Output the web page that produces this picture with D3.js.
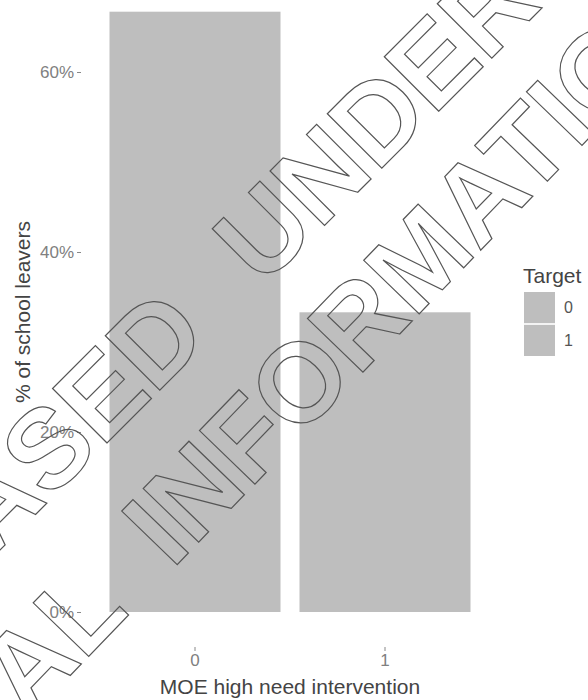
<!DOCTYPE html>
<html>
<head>
<meta charset="utf-8">
<script src="https://cdn.jsdelivr.net/npm/d3@7"></script>
<style>
  html, body { margin: 0; padding: 0; background: #ffffff; }
  svg { display: block; }
</style>
</head>
<body>
<script>
// ---- data ----
const categories = ["0", "1"];
const values = [66.7, 33.3];          // % of school leavers
const yTicks = [0, 20, 40, 60];
const legendKeys = ["0", "1"];
const xTitle = "MOE high need intervention";
const yTitle = "% of school leavers";
const legendTitle = "Target";
const watermark1 = ["RELEASED", "UNDER THE"];
const watermark2 = ["OFFICIAL", "INFORMATION ACT"];

const W = 588, H = 700;
const barColor = "#bebebe";
const font = "'Liberation Sans', Arial, sans-serif";

const svg = d3.select("body").append("svg")
  .attr("width", W).attr("height", H);

const x = d3.scaleBand().domain(categories).range([81, 499])
  .paddingInner(0.1).paddingOuter(0.15);
const y = d3.scaleLinear().domain([0, 60]).range([612, 72]);

// bars
svg.append("g").selectAll("rect").data(categories).join("rect")
  .attr("x", d => x(d))
  .attr("width", x.bandwidth())
  .attr("y", (d, i) => y(values[i]))
  .attr("height", (d, i) => y(0) - y(values[i]))
  .attr("fill", barColor);

// y axis
const yAxis = svg.append("g").attr("transform", "translate(81,0)")
  .call(d3.axisLeft(y).tickValues(yTicks).tickFormat(d => d + "%").tickSize(4).tickPadding(3));
yAxis.select(".domain").remove();
yAxis.selectAll("line").attr("stroke", "#888");
yAxis.selectAll("text").attr("font-family", font).attr("font-size", 17).attr("fill", "#808080");

// x axis
const xAxis = svg.append("g").attr("transform", "translate(0,647)")
  .call(d3.axisBottom(x).tickSize(4).tickPadding(3));
xAxis.select(".domain").remove();
xAxis.selectAll("line").attr("stroke", "#888");
xAxis.selectAll("text").attr("font-family", font).attr("font-size", 17).attr("fill", "#808080");

// axis titles
svg.append("text").attr("x", 290).attr("y", 694).attr("text-anchor", "middle")
  .attr("font-family", font).attr("font-size", 21).attr("fill", "#444").text(xTitle);
svg.append("text").attr("transform", "translate(30,312) rotate(-90)")
  .attr("text-anchor", "middle")
  .attr("font-family", font).attr("font-size", 21).attr("fill", "#444").text(yTitle);

// legend
const lg = svg.append("g");
lg.append("text").attr("x", 523).attr("y", 283)
  .attr("font-family", font).attr("font-size", 21).attr("fill", "#444").text(legendTitle);
const key = d3.scaleBand().domain(legendKeys).range([292, 356]).paddingInner(0.05);
lg.selectAll("rect").data(legendKeys).join("rect")
  .attr("x", 524).attr("y", d => key(d)).attr("width", 31).attr("height", key.bandwidth())
  .attr("fill", barColor);
lg.selectAll("text.k").data(legendKeys).join("text").attr("class", "k")
  .attr("x", 564).attr("y", d => key(d) + key.bandwidth() / 2)
  .attr("dy", "0.35em")
  .attr("font-family", font).attr("font-size", 16).attr("fill", "#555").text(d => d);

// watermark (outlined text)
const F = 112;
function wmLine(px, py, angle, gap, parts) {
  const g = svg.append("g").attr("transform", `translate(${px},${py}) rotate(${angle})`);
  const common = s => s.attr("font-family", font).attr("font-weight", "bold")
    .attr("font-size", F).attr("fill", "none").attr("stroke", "#555").attr("stroke-width", 1.2);
  g.append("text").attr("x", -gap).attr("text-anchor", "end").call(common).text(parts[0]);
  g.append("text").attr("x", 0).attr("text-anchor", "start").call(common).text(parts[1]);
}
wmLine(262, 288, -45, 0.278 * F + 40, watermark1);
wmLine(172, 570, -46, 0.278 * F + 28, watermark2);
</script>
</body>
</html>
